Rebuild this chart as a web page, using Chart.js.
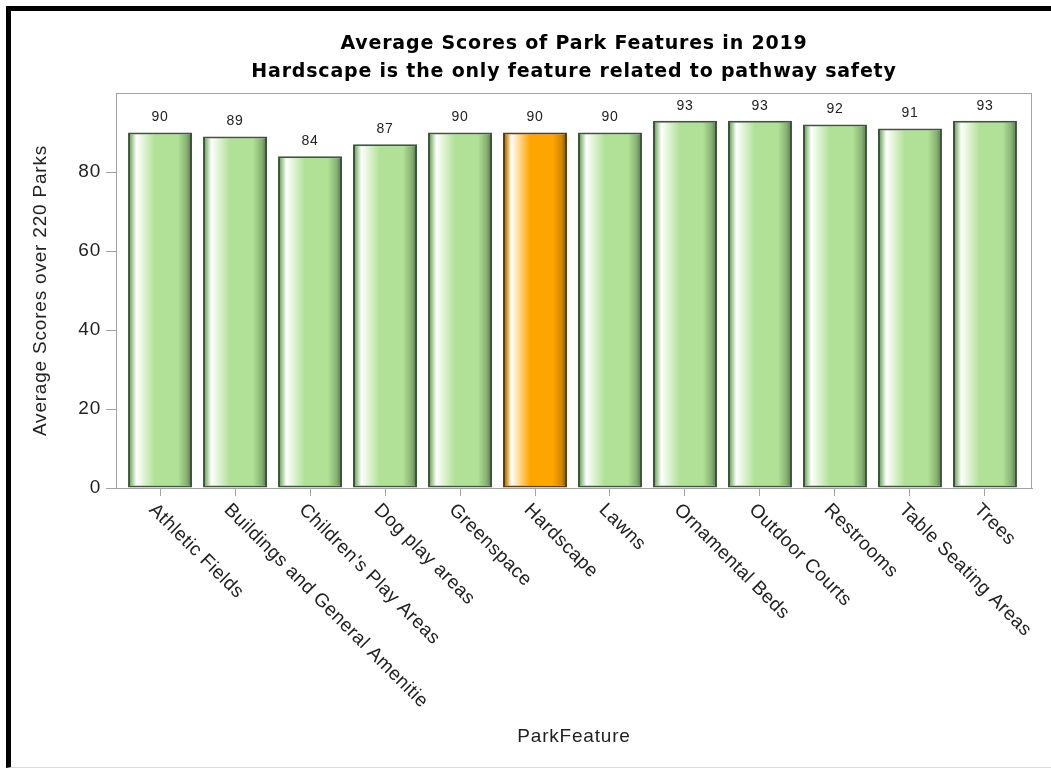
<!DOCTYPE html>
<html>
<head>
<meta charset="utf-8">
<script src="https://cdn.jsdelivr.net/npm/chart.js@4/dist/chart.umd.min.js"></script>
<style>
    body { margin: 0; background: #fff; overflow: hidden; }
    .frame {
        position: absolute; left: 6px; top: 6px;
        width: 1100px; height: 756px;
        border-left: 5px solid #000; border-top: 5px solid #000;
        border-bottom: 1px solid #dcdcdc;
    }
    .frame canvas { position: absolute; left: 0; top: 0; }
</style>
</head>
<body>
<div class="frame">
    <canvas id="chart" width="1040" height="756" style="width:1040px;height:756px"></canvas>
</div>
<script>
// data
const features = ['Athletic Fields', 'Buildings and General Amenitie', "Children's Play Areas", 'Dog play areas',
    'Greenspace', 'Hardscape', 'Lawns', 'Ornamental Beds', 'Outdoor Courts', 'Restrooms',
    'Table Seating Areas', 'Trees'];
const scores = [90, 89, 84, 87, 90, 90, 90, 93, 93, 92, 91, 93];
const yTicks = [0, 20, 40, 60, 80];
const highlight = 'Hardscape';

const titleLines = ['Average Scores of Park Features in 2019', 'Hardscape is the only feature related to pathway safety'];

const BAR_FRAC = 0.853;
const axisGray = '#a3a3a3';
const textFont = 'Liberation Sans, Arial, sans-serif';

const greenStops = [[0, '#557a4e'], [0.05, '#8fbf80'], [0.13, '#ffffff'], [0.42, '#b0e196'], [0.78, '#b0e196'], [0.92, '#86b071'], [1, '#4c6c44']];
const orangeStops = [[0, '#8a5a00'], [0.05, '#c98a10'], [0.13, '#ffffff'], [0.42, '#ffa500'], [0.78, '#ffa500'], [0.92, '#d08600'], [1, '#6e4700']];

function barFill(c) {
    const stops = features[c.dataIndex] === highlight ? orangeStops : greenStops;
    const xs = c.chart.scales.x;
    if (!xs || !xs.width) return stops[3][1];
    const cx = xs.getPixelForValue(c.dataIndex);
    const half = (xs.getPixelForValue(1) - xs.getPixelForValue(0)) * BAR_FRAC / 2;
    const g = c.chart.ctx.createLinearGradient(cx - half, 0, cx + half, 0);
    stops.forEach(s => g.addColorStop(s[0], s[1]));
    return g;
}

// wider letter spacing like the original renderer
const spacing = {
    id: 'spacing',
    beforeDraw(chart) { chart.ctx.letterSpacing = '0.8px'; }
};

// plot frame, value labels and slanted category labels
const extras = {
    id: 'extras',
    afterDatasetsDraw(chart) {
        const ctx = chart.ctx;
        const a = chart.chartArea;
        ctx.save();
        ctx.strokeStyle = axisGray;
        ctx.lineWidth = 1;
        ctx.strokeRect(a.left + 0.5, a.top + 0.5, a.right - a.left - 1, a.bottom - a.top);
        ctx.fillStyle = '#222';
        ctx.font = '14px ' + textFont;
        ctx.textAlign = 'center';
        ctx.textBaseline = 'middle';
        chart.getDatasetMeta(0).data.forEach((el, i) => {
            ctx.fillText(String(scores[i]), el.x, el.y - 15);
        });
        ctx.restore();
    },
    afterDraw(chart) {
        const ctx = chart.ctx;
        const xs = chart.scales.x;
        ctx.save();
        ctx.letterSpacing = '0.45px';
        ctx.fillStyle = '#222';
        ctx.font = '19px ' + textFont;
        ctx.textAlign = 'left';
        ctx.textBaseline = 'middle';
        features.forEach((f, i) => {
            const x = xs.getPixelForValue(i);
            ctx.save();
            ctx.translate(x - 8, chart.chartArea.bottom + 19);
            ctx.rotate(Math.PI / 4);
            ctx.fillText(f, 0, 0);
            ctx.restore();
        });
        ctx.restore();
    }
};

new Chart(document.getElementById('chart'), {
    type: 'bar',
    data: {
        datasets: [{
            data: scores.map((v, i) => ({ x: i, y: v })),
            backgroundColor: barFill,
            borderColor: c => features[c.dataIndex] === highlight ? '#5c3d10' : '#3f553b',
            borderWidth: 2,
            borderSkipped: false,
            categoryPercentage: 1,
            barPercentage: BAR_FRAC
        }]
    },
    plugins: [spacing, extras],
    options: {
        responsive: false,
        animation: false,
        layout: { padding: { left: 0, right: 19, top: 0, bottom: 0 } },
        plugins: {
            legend: { display: false },
            tooltip: { enabled: false },
            title: {
                display: true,
                fullSize: false,
                text: titleLines,
                color: '#000',
                font: { family: 'DejaVu Sans', size: 19, weight: 'bold', lineHeight: '28px' },
                padding: { top: 19, bottom: 7 }
            }
        },
        scales: {
            x: {
                type: 'linear',
                offset: false,
                min: -0.587,
                max: 11.627,
                afterBuildTicks: axis => { axis.ticks = features.map((f, i) => ({ value: i })); },
                afterFit: axis => { axis.height = 279; },
                ticks: { display: false },
                grid: { offset: false, drawOnChartArea: false, drawTicks: true, tickLength: 8, color: axisGray },
                border: { color: axisGray },
                title: {
                    display: true,
                    text: 'ParkFeature',
                    color: '#222',
                    font: { family: textFont, size: 19 },
                    padding: { top: 0, bottom: 18.6 }
                }
            },
            y: {
                min: 0,
                max: 100,
                afterBuildTicks: axis => { axis.ticks = yTicks.map(v => ({ value: v })); },
                afterFit: axis => { axis.width = 105; },
                ticks: {
                    color: '#222',
                    padding: 5,
                    font: { family: textFont, size: 19 }
                },
                grid: { drawOnChartArea: false, drawTicks: true, tickLength: 10, color: axisGray },
                border: { color: axisGray },
                title: {
                    display: true,
                    text: 'Average Scores over 220 Parks',
                    color: '#222',
                    font: { family: textFont, size: 19 },
                    padding: { top: 18.6, bottom: 0 }
                }
            }
        }
    }
});
</script>
</body>
</html>
